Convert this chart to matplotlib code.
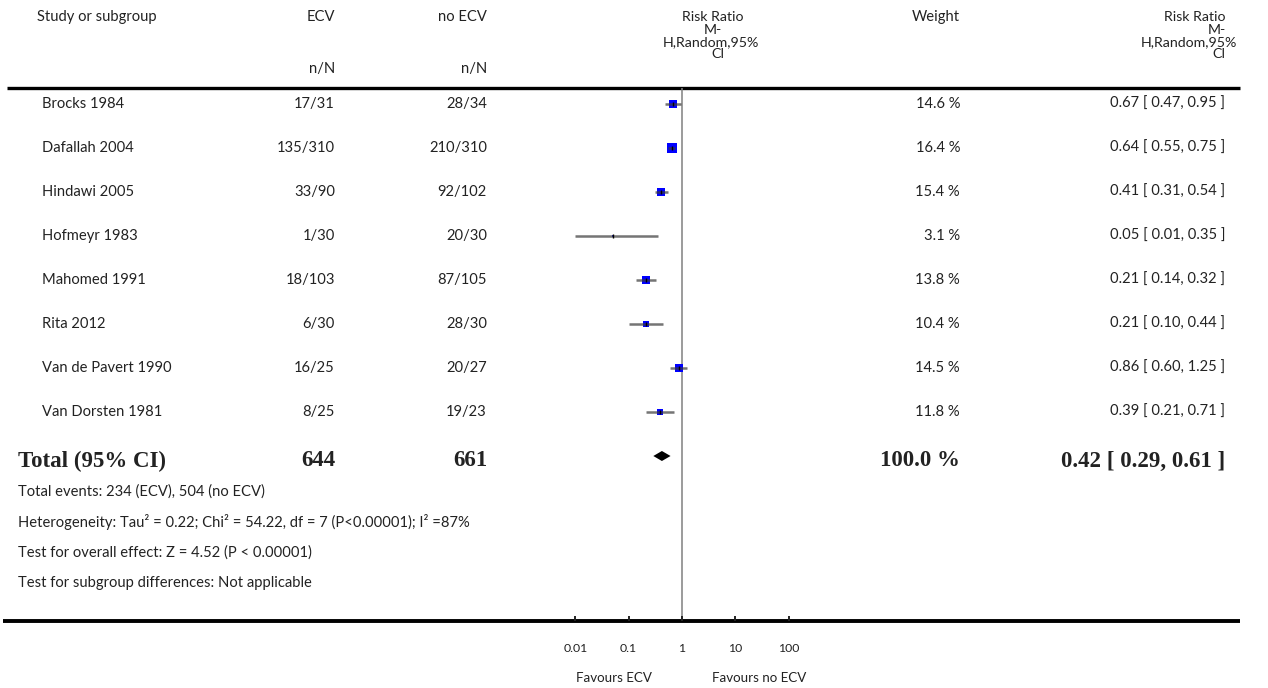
import matplotlib
matplotlib.use('Agg')
from matplotlib import pyplot as plt

# 研究数据
studies = ['Brocks 1984', 'Dafallah 2004', 'Hindawi 2005', 'Hofmeyr 1983',
           'Mahomed 1991', 'Rita 2012', 'Van de Pavert 1990', 'Van Dorsten 1981']
ecv_n = [17, 135, 33, 1, 18, 6, 16, 8]
ecv_N = [31, 310, 90, 30, 103, 30, 25, 25]
ctl_n = [28, 210, 92, 20, 87, 28, 20, 19]
ctl_N = [34, 310, 102, 30, 105, 30, 27, 23]
weights = [14.6, 16.4, 15.4, 3.1, 13.8, 10.4, 14.5, 11.8]
rr = [0.67, 0.64, 0.41, 0.05, 0.21, 0.21, 0.86, 0.39]
rr_lo = [0.47, 0.55, 0.31, 0.01, 0.14, 0.10, 0.60, 0.21]
rr_hi = [0.95, 0.75, 0.54, 0.35, 0.32, 0.44, 1.25, 0.71]

# 合并结果
total_ecv = 644
total_ctl = 661
total_weight = 100.0
total_rr = 0.42
total_lo = 0.29
total_hi = 0.61

ticks = [0.01, 0.1, 1, 10, 100]
tick_labels = ['0.01', '0.1', '1', '10', '100']

footer = ['Total events: 234 (ECV), 504 (no ECV)',
          'Heterogeneity: Tau² = 0.22; Chi² = 54.22, df = 7 (P<0.00001); I² =87%',
          'Test for overall effect: Z = 4.52 (P < 0.00001)',
          'Test for subgroup differences: Not applicable']

W, H = 1268, 688
sans = ['Lato', 'DejaVu Sans']
serif = ['Liberation Serif', 'DejaVu Serif']
txt_color = '#222222'
fs = 10.6

fig = plt.figure(figsize=(W / 100, H / 100), dpi=100)

# 文字层，用像素坐标
ax_t = fig.add_axes([0, 0, 1, 1])
ax_t.set_xlim(0, W)
ax_t.set_ylim(H, 0)
ax_t.axis('off')

def put(x, y, s, ha='left', size=fs, family=sans, weight='normal'):
    ax_t.text(x, y, s, ha=ha, va='center', fontsize=size, family=family,
              weight=weight, color=txt_color)

# 表头
put(37, 17, 'Study or subgroup')
put(335, 17, 'ECV', ha='right')
put(487, 17, 'no ECV', ha='right')
put(335, 69, 'n/N', ha='right')
put(487, 69, 'n/N', ha='right')
put(713, 17, 'Risk Ratio', ha='center', size=10.2)
put(713, 29.5, 'M-', ha='center', size=10.2)
put(711, 42, 'H,Random,95%', ha='center', size=10.2)
put(718, 54.5, 'CI', ha='center', size=10.2)
put(960, 17, 'Weight', ha='right')
put(1226, 17, 'Risk Ratio', ha='right', size=10.2)
put(1226, 29.5, 'M-', ha='right', size=10.2)
put(1237, 42, 'H,Random,95%', ha='right', size=10.2)
put(1226, 54.5, 'CI', ha='right', size=10.2)

# 粗横线
ax_t.plot([7, 1240], [88, 88], color='black', lw=2.4, solid_capstyle='butt')
ax_t.plot([3, 1240], [621, 621], color='black', lw=2.8, solid_capstyle='butt')

row_y0 = 104
row_h = 44
for i, name in enumerate(studies):
    y = row_y0 + row_h * i
    put(42, y, name)
    put(335, y, '%d/%d' % (ecv_n[i], ecv_N[i]), ha='right')
    put(487, y, '%d/%d' % (ctl_n[i], ctl_N[i]), ha='right')
    put(960, y, '%.1f %%' % weights[i], ha='right')
    put(1225, y, '%.2f [ %.2f, %.2f ]' % (rr[i], rr_lo[i], rr_hi[i]), ha='right')

# 合计行
ty = 461
bold = dict(size=16.5, family=serif, weight='bold')
put(18, ty, 'Total (95% CI)', **bold)
put(335, ty, '%d' % total_ecv, ha='right', **bold)
put(487, ty, '%d' % total_ctl, ha='right', **bold)
put(960, ty, '%.1f %%' % total_weight, ha='right', **bold)
put(1225, ty, '%.2f [ %.2f, %.2f ]' % (total_rr, total_lo, total_hi), ha='right', **bold)

for k, s in enumerate(footer):
    put(18, 492 + 30.5 * k, s)

put(614, 678, 'Favours ECV', ha='center', size=9.6)
put(759, 678, 'Favours no ECV', ha='center', size=9.6)

# 森林图区域：对数横轴，每个数量级约 53.3 像素，1 位于 x=682
dec = 53.33
x_left, x_right = 560, 820
y_top, y_bot = 88, 621
ax_f = fig.add_axes([x_left / W, 1 - y_bot / H, (x_right - x_left) / W, (y_bot - y_top) / H])
ax_f.set_xscale('log')
ax_f.set_xlim(10 ** ((x_left - 682) / dec), 10 ** ((x_right - 682) / dec))
ax_f.set_ylim((y_bot - row_y0) / row_h, (y_top - row_y0) / row_h)
ax_f.patch.set_alpha(0)
for sp in ax_f.spines.values():
    sp.set_visible(False)

ax_f.axvline(1, color='#808080', lw=1.1, zorder=1)

for i in range(len(studies)):
    side = 0.58 * weights[i] * 0.72
    ax_f.scatter([rr[i]], [i], marker='s', s=side ** 2, color='#0000ff',
                 linewidths=0, zorder=2)
    ax_f.plot([rr_lo[i], rr_hi[i]], [i, i], color='#3a3a3a', alpha=0.7, lw=1.8,
              solid_capstyle='butt', zorder=3)
    ax_f.plot([rr[i]], [i], marker='|', ms=3, mew=1, color='black', zorder=4)

# 合并效应菱形
k = len(studies)
dh = 5 / row_h
ax_f.fill([total_lo, total_rr, total_hi, total_rr], [k, k - dh, k, k + dh],
          color='black', lw=0, zorder=3)

ax_f.set_yticks([])
ax_f.set_xticks(ticks)
ax_f.set_xticklabels(tick_labels)
ax_f.minorticks_off()
ax_f.tick_params(axis='x', direction='in', length=3.8, width=1.4, pad=16,
                 labelsize=8.8, colors=txt_color)
for lab in ax_f.get_xticklabels():
    lab.set_family(sans)

fig.savefig('out.png', dpi=100)
